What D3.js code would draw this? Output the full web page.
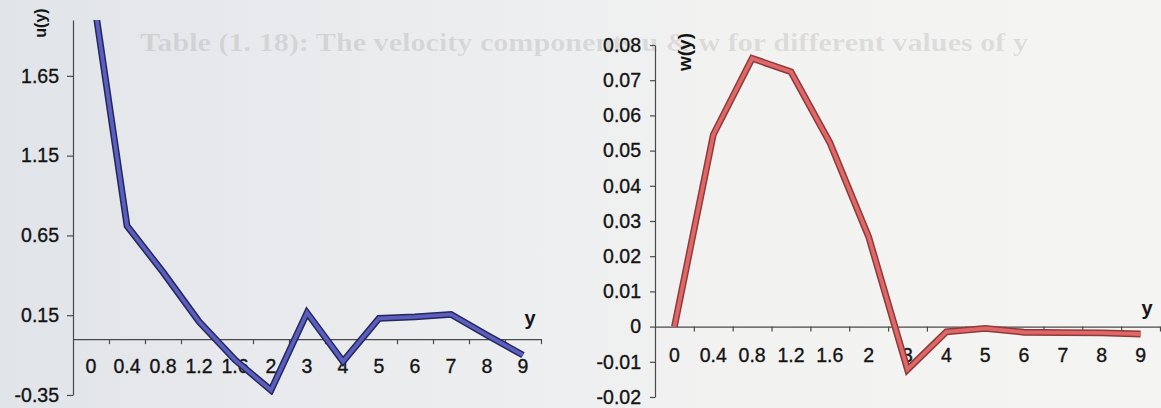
<!DOCTYPE html>
<html>
<head>
<meta charset="utf-8">
<script src="https://cdn.jsdelivr.net/npm/d3@7"></script>
<style>
  html, body { margin: 0; padding: 0; background: #eeeff0; }
  svg { display: block; }
  text { font-family: "Liberation Sans", Arial, sans-serif; }
</style>
</head>
<body>
<svg id="fig" width="1161" height="408"></svg>
<script>
// Velocity components along y (categorical axis, as in the printed table)
const categories = ["0", "0.4", "0.8", "1.2", "1.6", "2", "3", "4", "5", "6", "7", "8", "9"];
const uValues = [2.25, 0.71, 0.42, 0.11, -0.13, -0.32, 0.165, -0.14, 0.13, 0.14, 0.155, 0.025, -0.10];
const wValues = [0, 0.0545, 0.0762, 0.0724, 0.0523, 0.0255, -0.0122, -0.0015, -0.0005, -0.0016, -0.0017, -0.0018, -0.0021];
const uTicks = [-0.35, 0.15, 0.65, 1.15, 1.65];
const wTicks = [-0.02, -0.01, 0, 0.01, 0.02, 0.03, 0.04, 0.05, 0.06, 0.07, 0.08];
const caption = "Table (1. 18): The velocity components u & w for different values of y";

const svg = d3.select("#fig");
const defs = svg.append("defs");

// paper tone, slightly cooler on the left
const bg = defs.append("linearGradient").attr("id", "paper").attr("x1", 0).attr("x2", 1).attr("y1", 0).attr("y2", 0);
[["0%", "#e1e4e8"], ["20%", "#e7e9ec"], ["50%", "#eeeff0"], ["62%", "#f2f2f1"], ["100%", "#f4f4f2"]]
  .forEach(([o, c]) => bg.append("stop").attr("offset", o).attr("stop-color", c));
svg.append("rect").attr("width", 1161).attr("height", 408).attr("fill", "url(#paper)");

// caption showing through from the facing page
svg.append("text")
  .attr("x", 140).attr("y", 51)
  .attr("textLength", 888).attr("lengthAdjust", "spacingAndGlyphs")
  .style("font-family", "'Liberation Serif', 'DejaVu Serif', serif")
  .style("font-size", "25px").style("font-weight", "bold")
  .attr("fill", "#000").attr("fill-opacity", 0.1)
  .text(caption);

function drawChart(cfg) {
  const g = svg.append("g");
  const x = d3.scaleBand().domain(categories).range([cfg.left, cfg.right]);
  const y = d3.scaleLinear().domain(cfg.domain).range([cfg.bottom, cfg.top]);
  const y0 = y(0);

  // clip region = plot area
  defs.append("clipPath").attr("id", cfg.id + "-clip")
    .append("rect").attr("x", cfg.left).attr("y", cfg.top)
    .attr("width", cfg.right - cfg.left).attr("height", cfg.bottom - cfg.top);

  const inkText = sel => sel.attr("fill", "#141414").attr("stroke", "#141414")
    .attr("stroke-width", 0.35).style("font-size", "19.5px");

  // vertical axis
  const yAxis = g.append("g")
    .attr("transform", `translate(${cfg.left},0)`)
    .call(d3.axisLeft(y).tickValues(cfg.ticks).tickFormat(d => String(d))
      .tickSize(cfg.tickLen).tickPadding(cfg.tickPad).tickSizeOuter(0));
  yAxis.select(".domain").attr("stroke", "#4a4a4a").attr("stroke-width", 1.2);
  yAxis.selectAll(".tick line").attr("stroke", "#4a4a4a").attr("stroke-width", 1.2);
  yAxis.selectAll(".tick text").call(inkText);

  // horizontal axis through zero with tick marks between categories
  const edge = d3.scaleLinear().domain([0, categories.length]).range([cfg.left, cfg.right]);
  const xTicks = g.append("g")
    .attr("transform", `translate(0,${y0})`)
    .call(d3.axisBottom(edge).tickValues(d3.range(1, categories.length + 1))
      .tickFormat("").tickSize(5).tickSizeOuter(0));
  xTicks.select(".domain").attr("stroke", "#4a4a4a").attr("stroke-width", 1.2);
  xTicks.selectAll(".tick line").attr("stroke", "#4a4a4a").attr("stroke-width", 1.2);

  const xLabels = g.append("g")
    .attr("transform", `translate(0,${y0})`)
    .call(d3.axisBottom(x).tickSize(0).tickPadding(cfg.labelPad));
  xLabels.select(".domain").remove();
  xLabels.selectAll(".tick text").call(inkText);

  // series line: dark rim with lighter core
  const line = d3.line().x((d, i) => x(categories[i]) + x.bandwidth() / 2).y(d => y(d));
  const lg = g.append("g").attr("clip-path", `url(#${cfg.id}-clip)`);
  lg.append("path").datum(cfg.values).attr("d", line)
    .attr("fill", "none").attr("stroke", cfg.rim).attr("stroke-width", 6.8)
    .attr("stroke-linejoin", "miter").attr("stroke-miterlimit", 4);
  lg.append("path").datum(cfg.values).attr("d", line)
    .attr("fill", "none").attr("stroke", cfg.core).attr("stroke-width", 3.8)
    .attr("stroke-linejoin", "miter").attr("stroke-miterlimit", 4);

  // axis titles
  g.append("text")
    .attr("transform", `translate(${cfg.yTitle[0]},${cfg.yTitle[1]}) rotate(-90)`)
    .attr("text-anchor", "middle").attr("dy", "0.35em")
    .style("font-size", cfg.yTitleSize + "px").style("font-weight", "bold")
    .attr("fill", "#151515").text(cfg.yName);
  g.append("text")
    .attr("x", cfg.xTitle[0]).attr("y", cfg.xTitle[1])
    .attr("text-anchor", "middle")
    .style("font-size", "20px").style("font-weight", "bold")
    .attr("fill", "#151515").text("y");
}

drawChart({
  id: "u", values: uValues, ticks: uTicks, domain: [-0.35, 2.0],
  left: 73, right: 541, top: 20, bottom: 395,
  tickLen: 6, tickPad: 8, labelPad: 20,
  rim: "#25265c", core: "#5a5ebd",
  yName: "u(y)", yTitle: [40, 23], yTitleSize: 16, xTitle: [530, 325]
});

drawChart({
  id: "w", values: wValues, ticks: wTicks, domain: [-0.02, 0.08],
  left: 655, right: 1160, top: 45, bottom: 397,
  tickLen: 5, tickPad: 9, labelPad: 22,
  rim: "#8e3a3a", core: "#e06767",
  yName: "w(y)", yTitle: [684, 52], yTitleSize: 19, xTitle: [1147, 315]
});
</script>
</body>
</html>
